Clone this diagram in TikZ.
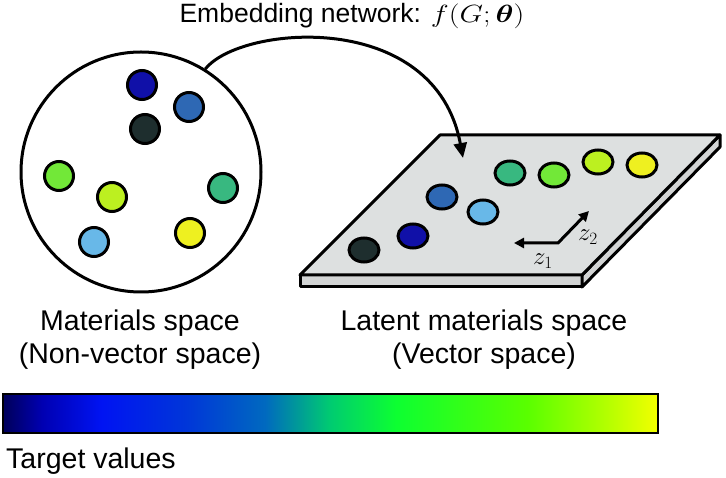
\documentclass[tikz,border=0pt]{standalone}
\usepackage{amsmath}
\usepackage{fontspec}
\setmainfont{Liberation Sans}
\usetikzlibrary{shapes.geometric,arrows.meta}

\definecolor{cdarkblue}{HTML}{1010A8}
\definecolor{cmedblue}{HTML}{2E68B4}
\definecolor{cdarkgray}{HTML}{1E2E2E}
\definecolor{clime}{HTML}{72E838}
\definecolor{cyelgreen}{HTML}{BCF020}
\definecolor{cteal}{HTML}{38B880}
\definecolor{clightblue}{HTML}{68B8E8}
\definecolor{cyellow}{HTML}{EEF020}
\definecolor{planetop}{HTML}{DDE0E0}
\definecolor{planeside}{HTML}{D2D4D4}

\pgfdeclarehorizontalshading{targetbar}{100bp}{color(0bp)=(black!65!blue); color(25bp)=(black!65!blue);
  color(28bp)=(black!30!blue); color(32.5bp)=(blue!92!cyan!95!black); color(39bp)=(blue!75!cyan!85!black);
  color(45bp)=(cyan!55!blue!75!black); color(50bp)=(cyan!55!green!80!black); color(55bp)=(green!85!cyan!95!white);
  color(65bp)=(green!65!yellow); color(71bp)=(yellow!70!green); color(75bp)=(yellow!95!green); color(100bp)=(yellow!95!green)}

\tikzset{
  mat/.style={circle, draw, line width=3pt, minimum size=29pt, inner sep=0pt},
  emb/.style={ellipse, draw, line width=3pt, minimum width=30pt, minimum height=24pt, inner sep=0pt},
  label/.style={font=\fontsize{28.5}{33}\selectfont, align=center},
}

\begin{document}
\begin{tikzpicture}[x=1pt,y=-1pt]
    \useasboundingbox (0,0) rectangle (726,478);
    % materials space
    \node[circle, draw, line width=3pt, minimum size=240pt] (matspace) at (141,172) {};
    \foreach \name/\col/\pos in {mA/cdarkblue/{(142,85)}, mB/cmedblue/{(189,107)}, mC/cdarkgray/{(145,129)},
        mD/clime/{(59,176)}, mE/cyelgreen/{(112,197)}, mF/cteal/{(223,188)},
        mG/clightblue/{(94,242)}, mH/cyellow/{(190,233)}}
        \node[mat, fill=\col] (\name) at \pos {};
    % latent space plate
    \draw[line width=3pt, line join=round, fill=planeside] (300,275) -- (582,275) -- (582,287) -- (300,287) -- cycle;
    \draw[line width=3pt, line join=round, fill=planeside] (582,275) -- (720,135) -- (720,147) -- (582,287) -- cycle;
    \draw[line width=3pt, line join=round, fill=planetop] (300,275) -- (582,275) -- (720,135) -- (440,135) -- cycle;
    \foreach \name/\col/\pos in {eA/cdarkgray/{(364,250)}, eB/cdarkblue/{(413,236)}, eC/cmedblue/{(442,197)},
        eD/clightblue/{(483,212)}, eE/cteal/{(510,173)}, eF/clime/{(554,175)},
        eG/cyelgreen/{(598,162)}, eH/cyellow/{(642,165)}}
        \node[emb, fill=\col] (\name) at \pos {};
    % latent axes
    \coordinate (orig) at (558,243);
    \coordinate (zone) at (514,243);
    \coordinate (ztwo) at (589,211);
    \draw[line width=3pt, {Triangle[length=10pt,width=10pt]}-{Triangle[length=10pt,width=10pt]}] (zone) -- (orig) -- (ztwo);
    \node[font=\fontsize{26}{30}\selectfont] (zonelab) at (543,261) {$z_1$};
    \node[font=\fontsize{26}{30}\selectfont] (ztwolab) at (588,237) {$z_2$};
    % embedding network
    \coordinate (drop) at (463,158);
    \draw[line width=3pt, -{Triangle[length=15pt,width=13pt]}] (matspace.58) .. controls (240,25) and (435,8) .. (drop);
    \node[font=\fontsize{26.5}{31}\selectfont, anchor=base] (title) at (352,23)
        {Embedding network: \scalebox{1.22}[1]{\fontsize{29}{31}\selectfont$f(G;\boldsymbol{\theta})$}};
    % labels
    \node[label, anchor=base] (matlab) at (140,364) {Materials space\\(Non-vector space)};
    \node[label, anchor=base] (latlab) at (484,364) {Latent materials space\\(Vector space)};
    % colour bar
    \draw[line width=2pt, shading=targetbar] (3,394) rectangle (658,433);
    \node[label, anchor=base west, inner sep=0pt] (target) at (6,468) {Target values};
\end{tikzpicture}
\end{document}
